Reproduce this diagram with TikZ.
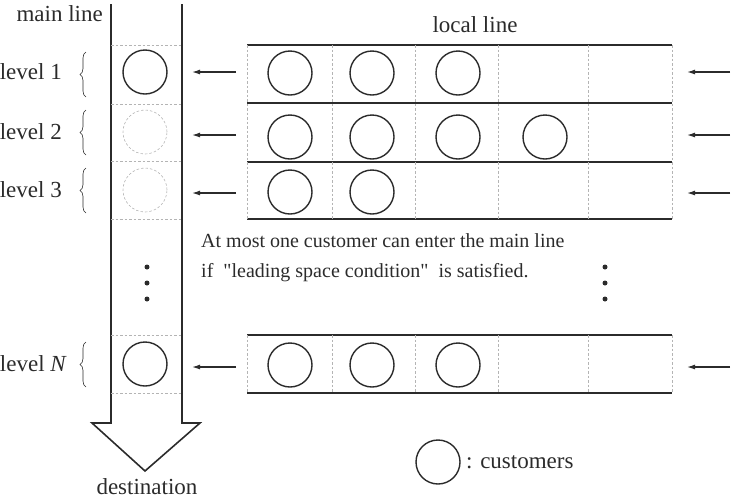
\documentclass[tikz,border=0pt]{standalone}
\usepackage{fontspec}
\setmainfont{Liberation Serif}
\usepackage{xcolor}
\usetikzlibrary{arrows.meta,positioning,calc,decorations.pathreplacing}
\definecolor{ink}{HTML}{2B2B2B}
\definecolor{cellgrid}{HTML}{B4B4B4}
\tikzset{
  wall/.style={draw=ink, line width=1.6pt},
  cell/.style={draw=cellgrid, line width=0.6pt, dash pattern=on 2.5pt off 2pt},
  cust/.style={circle, draw=ink, line width=1.4pt, minimum size=44pt, inner sep=0pt},
  ghost/.style={circle, draw=cellgrid, line width=0.6pt, dash pattern=on 2.5pt off 2pt,
                minimum size=44pt, inner sep=0pt},
  feed/.style={-{Latex[length=8pt,width=5pt]}, draw=ink, line width=1.2pt},
  lbl/.style={font=\fontsize{23}{26}\selectfont, text=ink, inner sep=0pt},
  note/.style={font=\fontsize{20}{23}\selectfont, text=ink, inner sep=0pt, anchor=west},
  dotmark/.style={circle, fill=ink, inner sep=0pt, minimum size=5pt},
  lvlbrace/.style={draw=ink, line width=0.6pt, decorate, decoration={brace, amplitude=6pt}}
}

\begin{document}
\begin{tikzpicture}[x=1pt,y=-1pt]
  \useasboundingbox (0,0) rectangle (731,499);

  % main line with its arrow head
  \draw[wall,line join=miter] (111,4) -- (111,423) -- (92,423) -- (145,471)
    -- (200,423) -- (182,423) -- (182,4);
  \foreach \yy in {45,104,161,219,335,393}
    \draw[cell] (111,\yy) -- (182,\yy);
  \node[lbl,anchor=east] (mainlbl) at (103,14) {main line};
  \node[lbl] (dest) at (147,487) {destination};

  % levels
  \node[lbl,anchor=east] (lv1) at (62,72) {level 1};
  \node[lbl,anchor=east] (lv2) at (62,132) {level 2};
  \node[lbl,anchor=east] (lv3) at (62,190) {level 3};
  \node[lbl,anchor=east] (lvN) at (67,364) {level \textit{N}};
  \draw[lvlbrace] (86,97) -- (86,52);
  \draw[lvlbrace] (86,155) -- (86,110);
  \draw[lvlbrace] (86,213) -- (86,168);
  \draw[lvlbrace] (86,387) -- (86,342);

  \node[cust]  (m1) at (145,72) {};
  \node[ghost] (m2) at (145,132) {};
  \node[ghost] (m3) at (145,190) {};
  \node[cust]  (mN) at (145,364) {};
  \node[dotmark] (md1) at (147,267) {};
  \node[dotmark] (md2) at (147,283) {};
  \node[dotmark] (md3) at (147,299) {};

  % local line
  \node[lbl] (locallbl) at (475,25) {local line};
  \foreach \yy in {45,103,162,219,335,393}
    \draw[wall] (247,\yy) -- (672,\yy);
  \foreach \xx in {247,332,415,498,588,672} {
    \draw[cell] (\xx,45) -- (\xx,219);
    \draw[cell] (\xx,335) -- (\xx,393);
  }
  \node[cust] (a1) at (290,73) {};
  \node[cust] (a2) at (372,73) {};
  \node[cust] (a3) at (458,73) {};
  \node[cust] (b1) at (290,137) {};
  \node[cust] (b2) at (372,137) {};
  \node[cust] (b3) at (458,137) {};
  \node[cust] (b4) at (545,137) {};
  \node[cust] (c1) at (290,192) {};
  \node[cust] (c2) at (372,192) {};
  \node[cust] (n1) at (290,365) {};
  \node[cust] (n2) at (372,365) {};
  \node[cust] (n3) at (458,365) {};
  \node[dotmark] (ld1) at (605,267) {};
  \node[dotmark] (ld2) at (605,283) {};
  \node[dotmark] (ld3) at (605,299) {};

  % arrivals and merges
  \foreach \r/\yy in {1/72,2/135,3/193,N/367} {
    \coordinate (in\r) at (730,\yy);
    \coordinate (at\r) at (687,\yy);
    \coordinate (out\r) at (236,\yy);
    \coordinate (join\r) at (192,\yy);
    \draw[feed] (in\r) -- (at\r);
    \draw[feed] (out\r) -- (join\r);
  }

  \node[note] (rule1) at (201,241) {At most one customer can enter the main line};
  \node[note] (rule2) at (201,273)
    {if\ \ \textquotedbl leading space condition\textquotedbl\ \ is satisfied.};

  % legend
  \node[cust] (key) at (438,462) {};
  \node[lbl,anchor=west] (keylbl) at (466,462) {: customers};
\end{tikzpicture}
\end{document}
